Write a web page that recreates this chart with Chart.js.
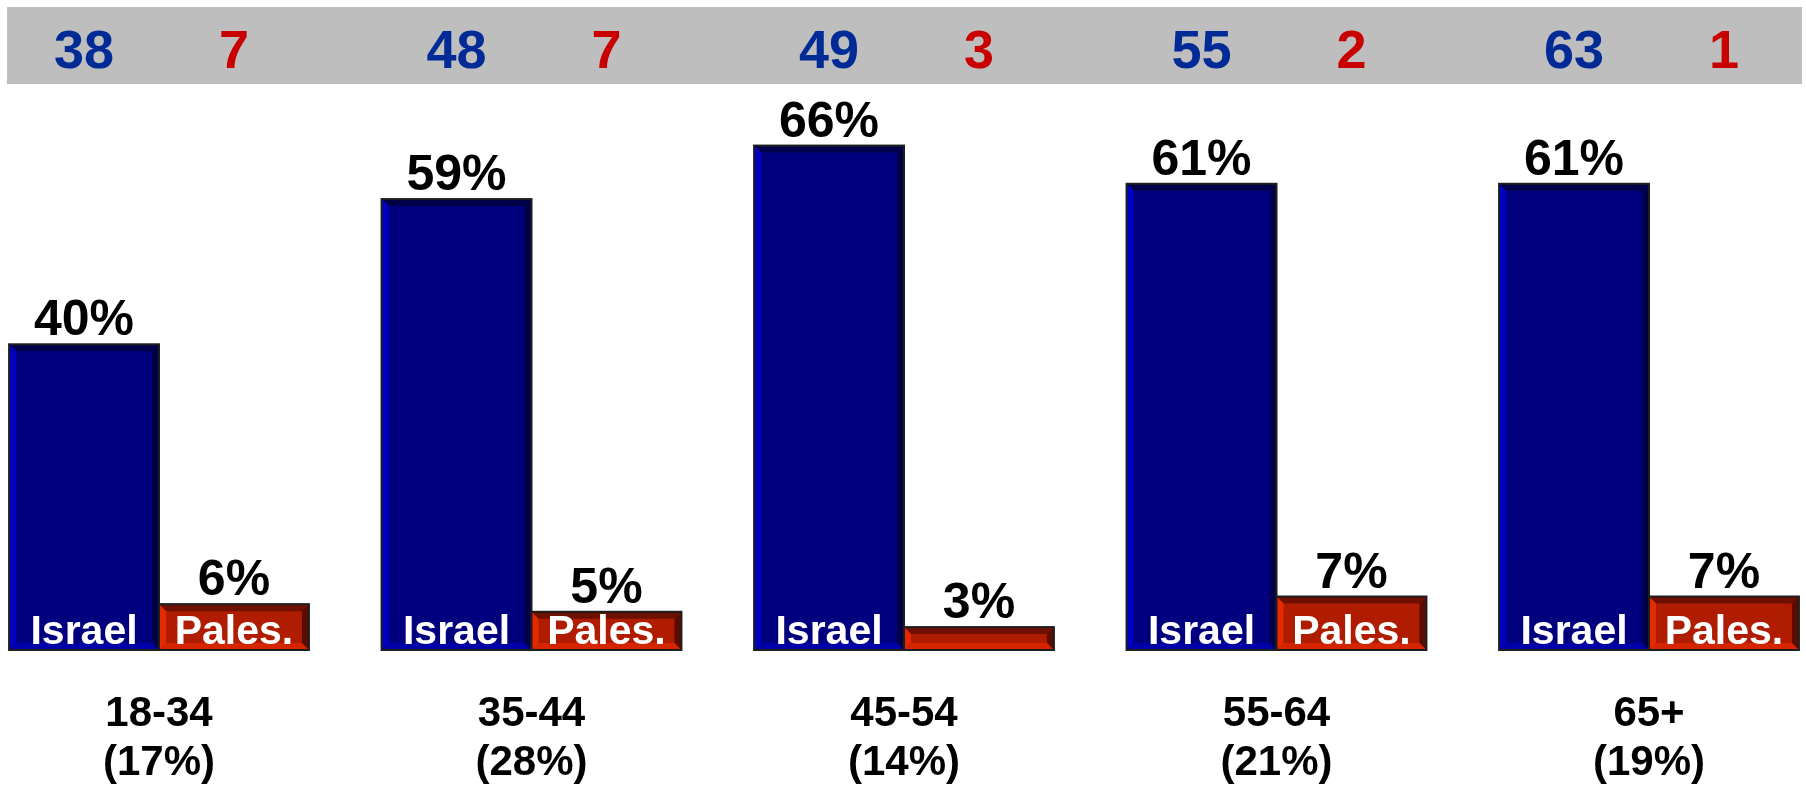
<!DOCTYPE html>
<html lang="en">
<head>
<meta charset="UTF-8" />
<title>Israel / Pales. by age group</title>
<script src="https://cdn.jsdelivr.net/npm/chart.js@4.4.1/dist/chart.umd.min.js"></script>
<style>
  html, body { margin: 0; padding: 0; background: #fff; overflow: hidden; }
</style>
</head>
<body>
<canvas id="chart" width="1806" height="785"></canvas>
<script>
// values
const ageGroups = ["18-34", "35-44", "45-54", "55-64", "65+"];
const groupShares = ["(17%)", "(28%)", "(14%)", "(21%)", "(19%)"];
const seriesNames = ["Israel", "Pales."];
const israelPct = [40, 59, 66, 61, 61];
const palesPct = [6, 5, 3, 7, 7];
// numbers in the grey band at the top
const israelTop = [38, 48, 49, 55, 63];
const palesTop = [7, 7, 3, 2, 1];

const FONT = '"Liberation Sans", Arial, sans-serif';

const bevels = [
  { top: "#00004a", left: "#0000c4", right: "#000048", bottom: "#0000a8" },
  { top: "#6e1000", left: "#e42a00", right: "#5a0c00", bottom: "#d42400" }
];

function poly(ctx, pts, color) {
  ctx.beginPath();
  ctx.moveTo(pts[0][0], pts[0][1]);
  for (let i = 1; i < pts.length; i++) ctx.lineTo(pts[i][0], pts[i][1]);
  ctx.closePath();
  ctx.fillStyle = color;
  ctx.fill();
}

// grey band behind the top numbers
const bandPlugin = {
  id: "band",
  beforeDraw(chart) {
    const ctx = chart.ctx;
    ctx.save();
    ctx.fillStyle = "#bebebe";
    ctx.fillRect(7, 7, 1795, 77);
    ctx.restore();
  }
};

// 3D edges on the bars plus all the text
const decoPlugin = {
  id: "deco",
  afterDatasetsDraw(chart) {
    const ctx = chart.ctx;
    ctx.save();
    chart.data.datasets.forEach((ds, di) => {
      const meta = chart.getDatasetMeta(di);
      const c = bevels[di];
      meta.data.forEach((bar, i) => {
        const l = bar.x - bar.width / 2, r = bar.x + bar.width / 2;
        const t = bar.y, b = bar.base;
        const d = Math.min(7, (b - t) / 2);
        poly(ctx, [[l, t], [r, t], [r - d, t + d], [l + d, t + d]], c.top);
        poly(ctx, [[l, t], [l + d, t + d], [l + d, b - d], [l, b]], c.left);
        poly(ctx, [[r, t], [r, b], [r - d, b - d], [r - d, t + d]], c.right);
        poly(ctx, [[l, b], [l + d, b - d], [r - d, b - d], [r, b]], c.bottom);
        ctx.lineWidth = 2;
        ctx.strokeStyle = "#1e1e1e";
        ctx.strokeRect(l, t, r - l, b - t);

        ctx.textAlign = "center";
        ctx.textBaseline = "alphabetic";
        // value above the bar
        ctx.fillStyle = "#000";
        ctx.font = "bold 50px " + FONT;
        ctx.fillText(ds.data[i] + "%", bar.x, t - 9);
        // series name inside the bar (only when it fits)
        if (b - t > 30) {
          ctx.fillStyle = "#fff";
          ctx.font = "bold 41px " + FONT;
          ctx.fillText(seriesNames[di], bar.x, b - 6);
        }
        // number in the grey band
        ctx.fillStyle = di === 0 ? "#002b96" : "#c80000";
        ctx.font = "bold 54px " + FONT;
        ctx.fillText(String(di === 0 ? israelTop[i] : palesTop[i]), bar.x, 68);
      });
    });
    // age group labels under each pair
    const xs = chart.scales.x;
    ctx.fillStyle = "#000";
    ctx.font = "bold 42px " + FONT;
    ctx.textAlign = "center";
    ageGroups.forEach((g, i) => {
      const x = xs.getPixelForValue(i);
      ctx.fillText(g, x, 726);
      ctx.fillText(groupShares[i], x, 775);
    });
    ctx.restore();
  }
};

const ctx = document.getElementById("chart").getContext("2d");
const myChart = new Chart(ctx, {
  type: "bar",
  data: {
    labels: ageGroups,
    datasets: [
      {
        label: seriesNames[0],
        data: israelPct,
        backgroundColor: "#00007e",
        borderWidth: 0,
        clip: false
      },
      {
        label: seriesNames[1],
        data: palesPct,
        backgroundColor: "#b01c00",
        borderWidth: 0,
        clip: false
      }
    ]
  },
  options: {
    responsive: false,
    animation: false,
    devicePixelRatio: 1,
    categoryPercentage: 0.805,
    barPercentage: 1,
    layout: { padding: { left: 159, right: 157, top: 115, bottom: 135 } },
    plugins: { legend: { display: false }, tooltip: { enabled: false } },
    scales: {
      x: { display: false, offset: false, grid: { display: false } },
      y: { display: false, min: 0, max: 70, grid: { display: false } }
    }
  },
  plugins: [bandPlugin, decoPlugin]
});
</script>
</body>
</html>
